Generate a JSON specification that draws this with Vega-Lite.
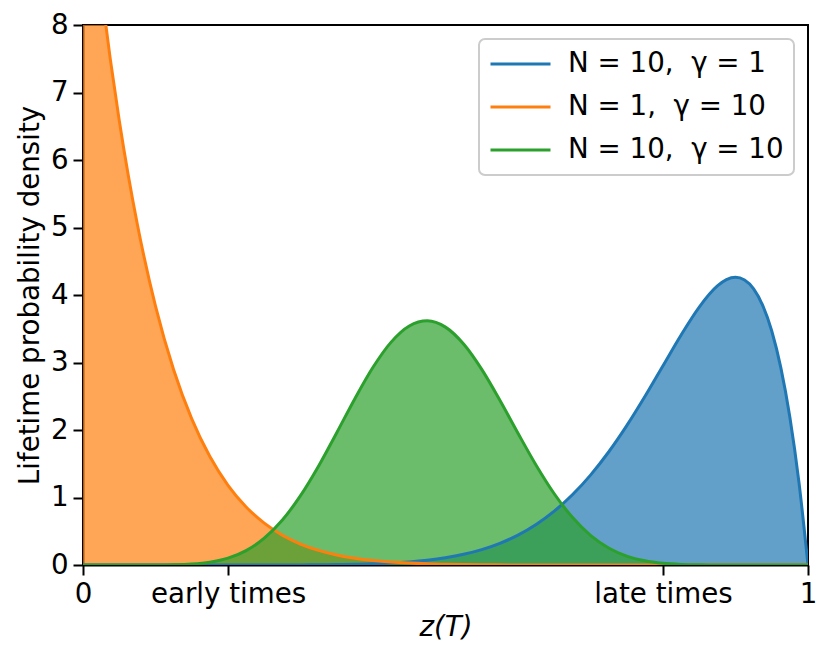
{
  "$schema": "https://vega.github.io/schema/vega-lite/v6.json",
  "width": 725,
  "height": 540,
  "autosize": "none",
  "padding": {"left": 83, "top": 25, "right": 23, "bottom": 93},
  "background": "white",
  "config": {
    "font": "DejaVu Sans",
    "view": {"stroke": "black", "strokeWidth": 2},
    "axis": {
      "grid": false,
      "labelFont": "DejaVu Sans",
      "labelFontSize": 27.7,
      "labelColor": "black",
      "labelFlush": false,
      "labelOverlap": false,
      "labelPadding": 5,
      "tickColor": "black",
      "tickSize": 10,
      "tickWidth": 2,
      "domainColor": "black",
      "domainWidth": 2,
      "titleFont": "DejaVu Sans",
      "titleFontSize": 27.7,
      "titleFontWeight": "normal",
      "titleColor": "black"
    },
    "legend": {
      "labelFont": "DejaVu Sans",
      "labelFontSize": 27.7,
      "labelColor": "black",
      "labelLimit": 500,
      "fillColor": "white",
      "strokeColor": "#cccccc",
      "strokeWidth": 2,
      "cornerRadius": 6,
      "padding": 10,
      "rowPadding": 13,
      "clipHeight": 30,
      "labelOffset": 16,
      "symbolType": "stroke",
      "symbolSize": 3600,
      "symbolStrokeWidth": 3,
      "symbolOpacity": 1
    }
  },
  "data": {
    "values": [
      {"s": "a", "z": 0, "d": 0},
      {"s": "a", "z": 0.1, "d": 0},
      {"s": "a", "z": 0.2, "d": 0.00005},
      {"s": "a", "z": 0.225, "d": 0.00013},
      {"s": "a", "z": 0.25, "d": 0.0003},
      {"s": "a", "z": 0.275, "d": 0.0007},
      {"s": "a", "z": 0.3, "d": 0.0015},
      {"s": "a", "z": 0.325, "d": 0.003},
      {"s": "a", "z": 0.35, "d": 0.0056},
      {"s": "a", "z": 0.375, "d": 0.0101},
      {"s": "a", "z": 0.4, "d": 0.0173},
      {"s": "a", "z": 0.425, "d": 0.0286},
      {"s": "a", "z": 0.45, "d": 0.0458},
      {"s": "a", "z": 0.475, "d": 0.0711},
      {"s": "a", "z": 0.5, "d": 0.1074},
      {"s": "a", "z": 0.525, "d": 0.1583},
      {"s": "a", "z": 0.55, "d": 0.228},
      {"s": "a", "z": 0.575, "d": 0.3212},
      {"s": "a", "z": 0.6, "d": 0.4434},
      {"s": "a", "z": 0.625, "d": 0.6003},
      {"s": "a", "z": 0.65, "d": 0.7974},
      {"s": "a", "z": 0.675, "d": 1.0399},
      {"s": "a", "z": 0.7, "d": 1.3317},
      {"s": "a", "z": 0.725, "d": 1.6741},
      {"s": "a", "z": 0.75, "d": 2.0648},
      {"s": "a", "z": 0.775, "d": 2.4963},
      {"s": "a", "z": 0.8, "d": 2.9528},
      {"s": "a", "z": 0.825, "d": 3.4081},
      {"s": "a", "z": 0.85, "d": 3.8217},
      {"s": "a", "z": 0.875, "d": 4.134},
      {"s": "a", "z": 0.8875, "d": 4.2274},
      {"s": "a", "z": 0.9, "d": 4.2616},
      {"s": "a", "z": 0.9125, "d": 4.2217},
      {"s": "a", "z": 0.925, "d": 4.0901},
      {"s": "a", "z": 0.9375, "d": 3.8461},
      {"s": "a", "z": 0.95, "d": 3.4664},
      {"s": "a", "z": 0.9625, "d": 2.9243},
      {"s": "a", "z": 0.975, "d": 2.1896},
      {"s": "a", "z": 0.9875, "d": 1.2278},
      {"s": "a", "z": 1, "d": 0},
      {"s": "b", "z": 0, "d": 11},
      {"s": "b", "z": 0.0125, "d": 9.6998},
      {"s": "b", "z": 0.025, "d": 8.5396},
      {"s": "b", "z": 0.0375, "d": 7.5057},
      {"s": "b", "z": 0.05, "d": 6.5861},
      {"s": "b", "z": 0.0625, "d": 5.7691},
      {"s": "b", "z": 0.075, "d": 5.0444},
      {"s": "b", "z": 0.1, "d": 3.8355},
      {"s": "b", "z": 0.125, "d": 2.8938},
      {"s": "b", "z": 0.15, "d": 2.1656},
      {"s": "b", "z": 0.175, "d": 1.607},
      {"s": "b", "z": 0.2, "d": 1.1811},
      {"s": "b", "z": 0.225, "d": 0.86},
      {"s": "b", "z": 0.25, "d": 0.6195},
      {"s": "b", "z": 0.275, "d": 0.4413},
      {"s": "b", "z": 0.3, "d": 0.3107},
      {"s": "b", "z": 0.325, "d": 0.2159},
      {"s": "b", "z": 0.35, "d": 0.1481},
      {"s": "b", "z": 0.375, "d": 0.1},
      {"s": "b", "z": 0.4, "d": 0.0665},
      {"s": "b", "z": 0.425, "d": 0.0435},
      {"s": "b", "z": 0.45, "d": 0.0279},
      {"s": "b", "z": 0.475, "d": 0.0175},
      {"s": "b", "z": 0.5, "d": 0.0107},
      {"s": "b", "z": 0.55, "d": 0.0038},
      {"s": "b", "z": 0.6, "d": 0.0012},
      {"s": "b", "z": 0.65, "d": 0.0003},
      {"s": "b", "z": 0.7, "d": 0.0001},
      {"s": "b", "z": 0.8, "d": 0},
      {"s": "b", "z": 0.9, "d": 0},
      {"s": "b", "z": 1, "d": 0},
      {"s": "c", "z": 0, "d": 0},
      {"s": "c", "z": 0.05, "d": 0},
      {"s": "c", "z": 0.075, "d": 0.0001},
      {"s": "c", "z": 0.1, "d": 0.0006},
      {"s": "c", "z": 0.125, "d": 0.0036},
      {"s": "c", "z": 0.15, "d": 0.014},
      {"s": "c", "z": 0.175, "d": 0.0415},
      {"s": "c", "z": 0.2, "d": 0.1016},
      {"s": "c", "z": 0.225, "d": 0.2135},
      {"s": "c", "z": 0.25, "d": 0.3969},
      {"s": "c", "z": 0.275, "d": 0.6667},
      {"s": "c", "z": 0.3, "d": 1.0273},
      {"s": "c", "z": 0.325, "d": 1.4672},
      {"s": "c", "z": 0.35, "d": 1.9605},
      {"s": "c", "z": 0.375, "d": 2.4642},
      {"s": "c", "z": 0.4, "d": 2.9287},
      {"s": "c", "z": 0.425, "d": 3.3019},
      {"s": "c", "z": 0.45, "d": 3.5412},
      {"s": "c", "z": 0.475, "d": 3.6178},
      {"s": "c", "z": 0.5, "d": 3.5239},
      {"s": "c", "z": 0.525, "d": 3.2731},
      {"s": "c", "z": 0.55, "d": 2.8973},
      {"s": "c", "z": 0.575, "d": 2.4405},
      {"s": "c", "z": 0.6, "d": 1.9524},
      {"s": "c", "z": 0.625, "d": 1.4786},
      {"s": "c", "z": 0.65, "d": 1.0556},
      {"s": "c", "z": 0.675, "d": 0.7066},
      {"s": "c", "z": 0.7, "d": 0.4403},
      {"s": "c", "z": 0.725, "d": 0.2529},
      {"s": "c", "z": 0.75, "d": 0.1323},
      {"s": "c", "z": 0.775, "d": 0.062},
      {"s": "c", "z": 0.8, "d": 0.0254},
      {"s": "c", "z": 0.825, "d": 0.0088},
      {"s": "c", "z": 0.85, "d": 0.0025},
      {"s": "c", "z": 0.875, "d": 0.0005},
      {"s": "c", "z": 0.9, "d": 0.0001},
      {"s": "c", "z": 0.95, "d": 0},
      {"s": "c", "z": 1, "d": 0}
    ]
  },
  "encoding": {
    "x": {
      "field": "z",
      "type": "quantitative",
      "scale": {"domain": [0, 1], "nice": false},
      "axis": {
        "title": "z(T)",
        "titleFontStyle": "italic",
        "titlePadding": 6,
        "values": [0, 0.2, 0.8, 1],
        "labelExpr": "datum.value == 0 ? '0' : datum.value == 1 ? '1' : datum.value < 0.5 ? 'early times' : 'late times'"
      }
    },
    "y": {
      "field": "d",
      "type": "quantitative",
      "stack": null,
      "scale": {"domain": [0, 8], "nice": false},
      "axis": {
        "title": "Lifetime probability density",
        "titlePadding": 6,
        "values": [0, 1, 2, 3, 4, 5, 6, 7, 8]
      }
    },
    "color": {
      "field": "s",
      "type": "nominal",
      "scale": {"domain": ["a", "b", "c"], "range": ["#1f77b4", "#ff7f0e", "#2ca02c"]},
      "legend": {
        "title": null,
        "orient": "top-right",
        "offset": 14,
        "labelExpr": "datum.value == 'a' ? 'N = 10,\u00a0\u00a0γ = 1' : datum.value == 'b' ? 'N = 1,\u00a0\u00a0γ = 10' : 'N = 10,\u00a0\u00a0γ = 10'",
        "encode": {
          "symbols": {
            "update": {
              "stroke": {"scale": "color", "field": "value"},
              "strokeWidth": {"value": 3},
              "opacity": {"value": 1}
            }
          }
        }
      }
    }
  },
  "layer": [
    {"mark": {"type": "area", "opacity": 0.7, "interpolate": "monotone", "clip": true}},
    {"mark": {"type": "line", "strokeWidth": 3, "interpolate": "monotone", "clip": true}}
  ]
}
